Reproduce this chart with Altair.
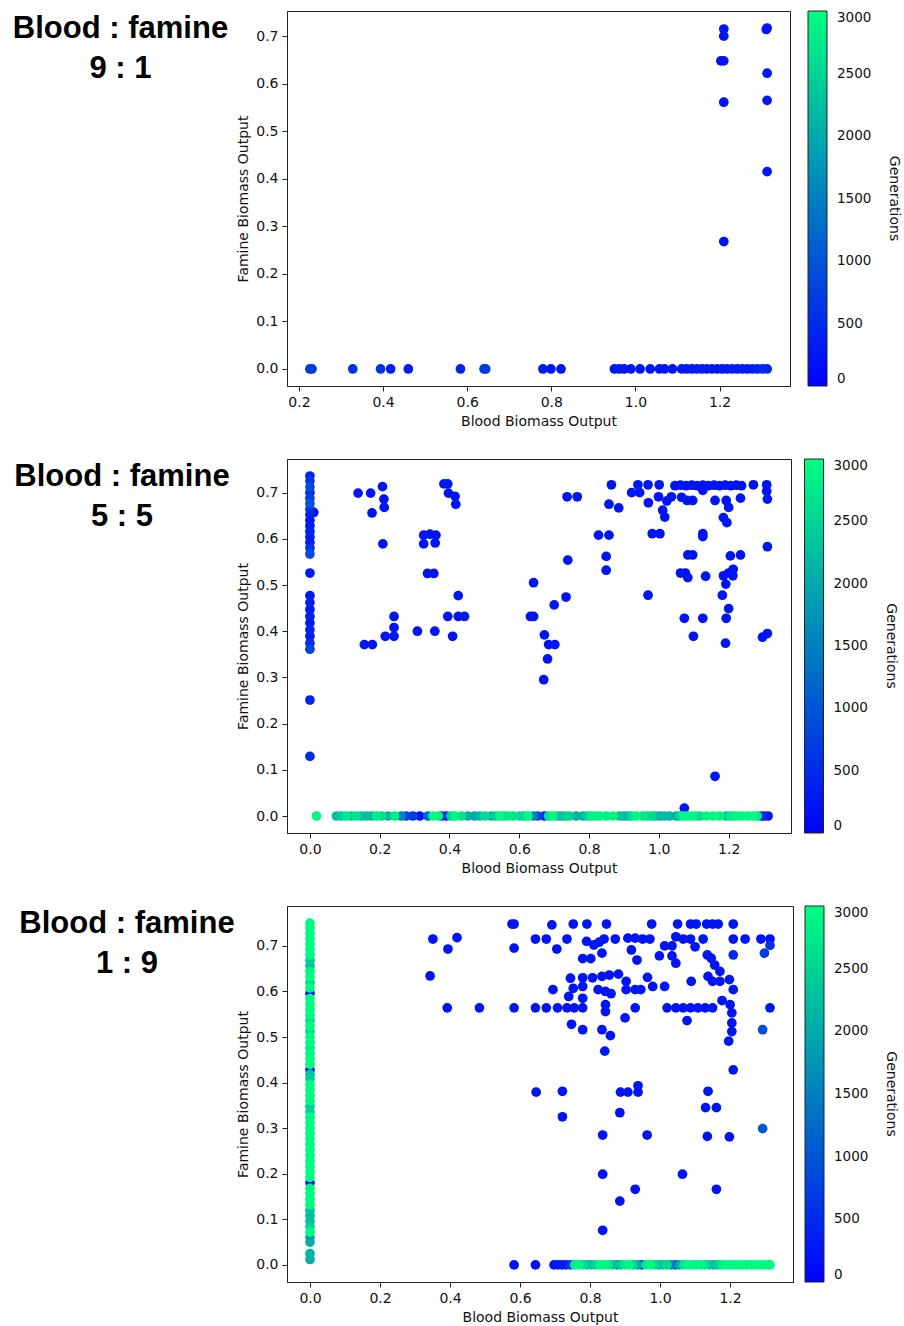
import altair as alt
import pandas as pd

# ---- Blood : famine 9 : 1 ------------------------------------------------
# each row: [blood biomass, famine biomass, generation]
p1_upper = [
    [1.210, 0.715, 250], [1.210, 0.700, 250], [1.203, 0.648, 250],
    [1.210, 0.648, 250], [1.210, 0.561, 250], [1.210, 0.268, 250],
    [1.313, 0.717, 250], [1.311, 0.714, 250], [1.313, 0.622, 280],
    [1.313, 0.565, 280], [1.313, 0.415, 280],
]
p1_floor = [
    [0.226, 0, 700], [0.231, 0, 700], [0.328, 0, 550], [0.394, 0, 600],
    [0.418, 0, 350], [0.460, 0, 350], [0.584, 0, 400], [0.640, 0, 700],
    [0.644, 0, 700], [0.780, 0, 300], [0.799, 0, 300], [0.823, 0, 250],
    [0.950, 0, 250], [0.962, 0, 250], [0.973, 0, 280], [0.989, 0, 280],
    [1.011, 0, 250], [1.035, 0, 250], [1.057, 0, 280], [1.069, 0, 280],
    [1.088, 0, 250], [1.110, 0, 280], [1.122, 0, 280], [1.134, 0, 300],
    [1.146, 0, 350], [1.158, 0, 350], [1.170, 0, 350], [1.182, 0, 300],
    [1.194, 0, 280], [1.206, 0, 280], [1.218, 0, 300], [1.230, 0, 350],
    [1.242, 0, 300], [1.254, 0, 350], [1.266, 0, 300], [1.278, 0, 350],
    [1.290, 0, 400], [1.302, 0, 500], [1.313, 0, 450],
]

# ---- Blood : famine 5 : 5 ------------------------------------------------
p2_column = [
    [0.000, 0.736, 400], [0.000, 0.725, 650], [0.000, 0.712, 900],
    [0.000, 0.700, 400], [0.000, 0.688, 750], [0.000, 0.676, 1000],
    [0.000, 0.664, 500], [0.000, 0.652, 400], [0.000, 0.640, 300],
    [0.000, 0.628, 300], [0.000, 0.616, 400], [0.000, 0.604, 300],
    [0.000, 0.592, 400], [0.000, 0.580, 650], [0.000, 0.567, 900],
    [0.011, 0.657, 250], [0.000, 0.526, 300], [0.000, 0.477, 300],
    [0.000, 0.462, 400], [0.000, 0.447, 300], [0.000, 0.432, 400],
    [0.000, 0.418, 300], [0.000, 0.403, 400], [0.000, 0.389, 300],
    [0.000, 0.374, 550], [0.000, 0.361, 800], [0.000, 0.251, 400],
    [0.000, 0.129, 500],
]
p2_scatter = [
    [0.138, 0.699, 250], [0.174, 0.699, 250], [0.178, 0.656, 250],
    [0.208, 0.713, 250], [0.212, 0.686, 250], [0.213, 0.668, 250],
    [0.209, 0.589, 250], [0.156, 0.371, 250], [0.179, 0.371, 250],
    [0.216, 0.389, 250], [0.241, 0.432, 250], [0.241, 0.408, 250],
    [0.241, 0.389, 250], [0.308, 0.400, 250], [0.326, 0.608, 250],
    [0.344, 0.610, 250], [0.361, 0.608, 250], [0.326, 0.589, 250],
    [0.359, 0.591, 250], [0.337, 0.525, 250], [0.355, 0.525, 250],
    [0.358, 0.400, 250], [0.384, 0.719, 250], [0.395, 0.719, 250],
    [0.397, 0.699, 250], [0.416, 0.692, 250], [0.418, 0.675, 250],
    [0.425, 0.477, 250], [0.395, 0.432, 250], [0.425, 0.432, 250],
    [0.443, 0.432, 250], [0.409, 0.389, 250],
    [0.641, 0.505, 250], [0.632, 0.432, 250], [0.641, 0.432, 250],
    [0.672, 0.392, 250], [0.684, 0.371, 250], [0.702, 0.371, 250],
    [0.681, 0.340, 250], [0.670, 0.295, 250], [0.700, 0.457, 250],
    [0.734, 0.474, 250], [0.739, 0.554, 250], [0.737, 0.691, 250],
    [0.766, 0.691, 250],
    [0.827, 0.608, 250], [0.857, 0.608, 250], [0.849, 0.562, 250],
    [0.849, 0.532, 250], [0.864, 0.717, 250], [0.857, 0.675, 250],
    [0.885, 0.667, 250], [0.922, 0.700, 250], [0.940, 0.717, 250],
    [0.945, 0.700, 250], [0.969, 0.717, 250], [0.970, 0.678, 250],
    [0.969, 0.478, 250], [0.981, 0.611, 250], [1.003, 0.611, 250],
    [1.001, 0.717, 250], [0.999, 0.691, 250], [1.011, 0.662, 250],
    [1.017, 0.647, 250], [1.023, 0.682, 250], [1.036, 0.691, 250],
    [1.046, 0.715, 250], [1.062, 0.716, 250], [1.078, 0.715, 250],
    [1.094, 0.716, 250], [1.110, 0.715, 250], [1.126, 0.716, 250],
    [1.142, 0.715, 250], [1.158, 0.716, 250], [1.174, 0.715, 250],
    [1.190, 0.716, 250], [1.206, 0.715, 250], [1.222, 0.716, 250],
    [1.237, 0.715, 250], [1.065, 0.690, 250], [1.081, 0.683, 250],
    [1.097, 0.683, 250], [1.126, 0.705, 250], [1.161, 0.683, 250],
    [1.193, 0.683, 250], [1.200, 0.668, 250], [1.185, 0.646, 250],
    [1.195, 0.635, 250], [1.234, 0.688, 250], [1.271, 0.717, 250],
    [1.309, 0.717, 250], [1.309, 0.703, 250], [1.311, 0.686, 250],
    [1.311, 0.583, 250], [1.297, 0.387, 250], [1.311, 0.395, 250],
    [1.083, 0.565, 250], [1.097, 0.565, 250], [1.062, 0.526, 250],
    [1.076, 0.526, 250], [1.083, 0.516, 250], [1.073, 0.428, 250],
    [1.099, 0.389, 250], [1.126, 0.611, 250], [1.126, 0.605, 250],
    [1.134, 0.519, 250], [1.126, 0.428, 250], [1.161, 0.086, 250],
    [1.073, 0.017, 250], [1.182, 0.478, 250], [1.185, 0.520, 250],
    [1.192, 0.502, 250], [1.200, 0.526, 250], [1.193, 0.428, 250],
    [1.200, 0.449, 250], [1.191, 0.374, 250], [1.205, 0.563, 250],
    [1.234, 0.565, 250], [1.213, 0.534, 250], [1.212, 0.520, 250],
]
p2_floor = [
    [0.019, 0, 2900], [0.076, 0, 2300], [0.090, 0, 2400], [0.104, 0, 2700],
    [0.119, 0, 2300], [0.133, 0, 2700], [0.147, 0, 2300], [0.162, 0, 2300],
    [0.176, 0, 2200], [0.191, 0, 2800], [0.205, 0, 2600], [0.224, 0, 2200],
    [0.243, 0, 2800], [0.262, 0, 1500], [0.276, 0, 800], [0.295, 0, 700],
    [0.315, 0, 300], [0.338, 0, 1200], [0.353, 0, 2950], [0.368, 0, 2900],
    [0.377, 0, 600], [0.391, 0, 200], [0.404, 0, 2500], [0.415, 0, 2900],
    [0.434, 0, 2700], [0.453, 0, 2100], [0.472, 0, 2000], [0.487, 0, 2200],
    [0.501, 0, 2600], [0.520, 0, 2100], [0.532, 0, 2400], [0.544, 0, 2900],
    [0.556, 0, 2500], [0.568, 0, 2800], [0.583, 0, 2700], [0.601, 0, 2600],
    [0.613, 0, 2400], [0.625, 0, 2900], [0.640, 0, 1500], [0.653, 0, 900],
    [0.672, 0, 300], [0.684, 0, 2600], [0.696, 0, 2900], [0.708, 0, 2300],
    [0.720, 0, 2000], [0.732, 0, 2400], [0.744, 0, 2500], [0.763, 0, 2100],
    [0.782, 0, 2100], [0.794, 0, 2400], [0.806, 0, 2800], [0.818, 0, 2700],
    [0.830, 0, 2900], [0.849, 0, 2800], [0.868, 0, 2900], [0.887, 0, 2300],
    [0.899, 0, 2200], [0.911, 0, 2100], [0.923, 0, 2600], [0.935, 0, 2900],
    [0.954, 0, 2700], [0.966, 0, 2500], [0.978, 0, 2600], [0.990, 0, 2300],
    [1.002, 0, 2000], [1.016, 0, 2200], [1.030, 0, 2100], [1.050, 0, 2000],
    [1.060, 0, 2500], [1.070, 0, 2900], [1.082, 0, 2800], [1.093, 0, 2900],
    [1.105, 0, 2700], [1.117, 0, 2600], [1.136, 0, 2900], [1.155, 0, 2950],
    [1.174, 0, 2900], [1.193, 0, 2300], [1.205, 0, 2700], [1.216, 0, 2900],
    [1.228, 0, 2800], [1.240, 0, 2900], [1.255, 0, 2950], [1.270, 0, 2900],
    [1.282, 0, 2700], [1.292, 0, 450], [1.302, 0, 400], [1.313, 0, 300],
]

# ---- Blood : famine 1 : 9 ------------------------------------------------
p3_column = [
    [0, 0.750, 2950], [0, 0.740, 2950], [0, 0.728, 2950], [0, 0.716, 2950],
    [0, 0.704, 2950], [0, 0.692, 2950], [0, 0.680, 2900], [0, 0.668, 2400],
    [0, 0.656, 2300], [0, 0.644, 2900], [0, 0.632, 2950], [0, 0.620, 2500],
    [0, 0.608, 2950], [0, 0.596, 300], [0, 0.584, 2950], [0, 0.572, 2950],
    [0, 0.560, 2900], [0, 0.548, 2950], [0, 0.536, 2600], [0, 0.524, 2950],
    [0, 0.512, 2500], [0, 0.500, 2950], [0, 0.488, 2950], [0, 0.476, 2700],
    [0, 0.464, 2950], [0, 0.452, 2950], [0, 0.440, 2950], [0, 0.428, 250],
    [0, 0.418, 2300], [0, 0.408, 2400], [0, 0.396, 2950], [0, 0.384, 2950],
    [0, 0.372, 2900], [0, 0.360, 2950], [0, 0.348, 2400], [0, 0.336, 2500],
    [0, 0.324, 2950], [0, 0.312, 2950], [0, 0.300, 2950], [0, 0.288, 2950],
    [0, 0.276, 2950], [0, 0.264, 2950], [0, 0.252, 2950], [0, 0.240, 2950],
    [0, 0.228, 2950], [0, 0.216, 2950], [0, 0.204, 2950], [0, 0.192, 2950],
    [0, 0.180, 350], [0, 0.168, 2900], [0, 0.156, 2950], [0, 0.144, 2950],
    [0, 0.132, 2950], [0, 0.120, 2300], [0, 0.108, 2200], [0, 0.096, 2300],
    [0, 0.084, 2500], [0, 0.072, 2950], [0, 0.060, 1900], [0, 0.050, 2000],
    [0, 0.025, 2100], [0, 0.012, 2100],
]
p3_scatter = [
    [0.343, 0.634, 250], [0.351, 0.715, 250], [0.394, 0.693, 250],
    [0.420, 0.718, 250], [0.392, 0.564, 250], [0.484, 0.564, 250],
    [0.577, 0.748, 250], [0.583, 0.748, 250], [0.583, 0.695, 250],
    [0.583, 0.564, 250], [0.644, 0.715, 250], [0.644, 0.564, 250],
    [0.675, 0.564, 250], [0.675, 0.715, 250], [0.691, 0.746, 250],
    [0.694, 0.604, 250], [0.705, 0.693, 250], [0.707, 0.564, 250],
    [0.734, 0.564, 250], [0.755, 0.564, 250], [0.779, 0.564, 250],
    [0.734, 0.715, 250], [0.752, 0.748, 250], [0.744, 0.629, 250],
    [0.752, 0.607, 250], [0.739, 0.589, 250], [0.779, 0.630, 250],
    [0.779, 0.611, 250], [0.779, 0.585, 250], [0.779, 0.672, 250],
    [0.802, 0.672, 250], [0.791, 0.748, 250], [0.747, 0.528, 250],
    [0.779, 0.516, 250], [0.790, 0.710, 250], [0.811, 0.702, 250],
    [0.826, 0.708, 250], [0.840, 0.715, 250], [0.834, 0.684, 250],
    [0.807, 0.630, 250], [0.834, 0.633, 250], [0.855, 0.636, 250],
    [0.881, 0.638, 250], [0.823, 0.604, 250], [0.844, 0.600, 250],
    [0.860, 0.595, 250], [0.844, 0.571, 250], [0.844, 0.556, 250],
    [0.834, 0.516, 250], [0.858, 0.503, 250], [0.842, 0.469, 250],
    [0.847, 0.748, 250], [0.872, 0.715, 250], [0.903, 0.622, 250],
    [0.903, 0.604, 250], [0.929, 0.604, 250], [0.945, 0.604, 250],
    [0.900, 0.542, 250], [0.929, 0.564, 250], [0.908, 0.717, 250],
    [0.929, 0.717, 250], [0.950, 0.715, 250], [0.918, 0.691, 250],
    [0.934, 0.669, 250], [0.976, 0.748, 250], [0.964, 0.631, 250],
    [0.979, 0.611, 250], [0.971, 0.715, 250], [0.998, 0.678, 250],
    [1.013, 0.611, 250], [1.013, 0.700, 250], [1.034, 0.700, 250],
    [1.050, 0.748, 250], [1.045, 0.720, 250], [1.066, 0.715, 250],
    [1.087, 0.715, 250], [1.034, 0.678, 250], [1.045, 0.662, 250],
    [1.020, 0.564, 250], [1.045, 0.564, 250], [1.066, 0.564, 250],
    [1.087, 0.564, 250], [1.108, 0.564, 250], [1.129, 0.564, 250],
    [1.150, 0.564, 250], [1.077, 0.536, 250], [1.087, 0.748, 250],
    [1.103, 0.748, 250], [1.100, 0.698, 250], [1.089, 0.622, 250],
    [1.123, 0.715, 250], [1.133, 0.748, 250], [1.150, 0.748, 250],
    [1.166, 0.748, 250], [1.137, 0.633, 250], [1.150, 0.622, 250],
    [1.171, 0.622, 250], [1.135, 0.680, 250], [1.146, 0.673, 250],
    [1.156, 0.658, 250], [1.171, 0.644, 250], [1.177, 0.580, 250],
    [1.200, 0.571, 250], [1.205, 0.553, 250], [1.205, 0.531, 250],
    [1.205, 0.512, 250], [1.209, 0.748, 250], [1.209, 0.715, 250],
    [1.198, 0.626, 250], [1.209, 0.604, 250], [1.196, 0.491, 250],
    [1.209, 0.428, 250], [1.243, 0.715, 250], [1.288, 0.715, 250],
    [1.314, 0.715, 250], [1.298, 0.684, 700], [1.314, 0.701, 600],
    [1.314, 0.564, 250], [1.293, 0.516, 900], [1.293, 0.299, 1000],
    [1.209, 0.680, 500], [0.646, 0.379, 250], [0.721, 0.381, 250],
    [0.721, 0.325, 250], [0.887, 0.379, 250], [0.908, 0.379, 250],
    [0.937, 0.393, 250], [0.937, 0.379, 250], [0.885, 0.334, 250],
    [0.836, 0.285, 250], [0.963, 0.285, 250], [1.137, 0.381, 250],
    [1.130, 0.345, 250], [1.161, 0.345, 250], [1.135, 0.282, 250],
    [1.198, 0.281, 250], [0.836, 0.199, 250], [1.064, 0.199, 250],
    [0.929, 0.166, 250], [1.161, 0.166, 250], [0.885, 0.140, 250],
    [0.836, 0.076, 250],
]
p3_floor = [
    [0.583, 0, 200], [0.644, 0, 200], [0.697, 0, 250], [0.708, 0, 250],
    [0.720, 0, 300], [0.732, 0, 350], [0.744, 0, 650], [0.756, 0, 2800],
    [0.768, 0, 2900], [0.780, 0, 2600], [0.792, 0, 2200], [0.804, 0, 2300],
    [0.816, 0, 2500], [0.828, 0, 2900], [0.840, 0, 2950], [0.852, 0, 2800],
    [0.864, 0, 2300], [0.876, 0, 1800], [0.888, 0, 2400], [0.900, 0, 2800],
    [0.912, 0, 2900], [0.924, 0, 2500], [0.936, 0, 1900], [0.948, 0, 650],
    [0.960, 0, 2700], [0.972, 0, 2950], [0.984, 0, 2600], [0.996, 0, 2200],
    [1.008, 0, 2300], [1.020, 0, 2600], [1.032, 0, 1500], [1.044, 0, 900],
    [1.056, 0, 2000], [1.068, 0, 2700], [1.080, 0, 2950], [1.092, 0, 2900],
    [1.104, 0, 2800], [1.116, 0, 2900], [1.128, 0, 2700], [1.140, 0, 2300],
    [1.152, 0, 2200], [1.164, 0, 2400], [1.176, 0, 2800], [1.188, 0, 2950],
    [1.200, 0, 2950], [1.212, 0, 2900], [1.224, 0, 2950], [1.236, 0, 2950],
    [1.248, 0, 2950], [1.260, 0, 2900], [1.272, 0, 2950], [1.284, 0, 2950],
    [1.296, 0, 2950], [1.308, 0, 2950], [1.314, 0, 2950],
]

x_ticks_a = [0.2, 0.4, 0.6, 0.8, 1.0, 1.2]
x_ticks_b = [0.0, 0.2, 0.4, 0.6, 0.8, 1.0, 1.2]
y_ticks = [0.0, 0.1, 0.2, 0.3, 0.4, 0.5, 0.6, 0.7]
gen_ticks = [0, 500, 1000, 1500, 2000, 2500, 3000]

TEXT = "DejaVu Sans"


def panel(rows, ratio, x_dom, y_dom, x_ticks, w, h, title_x, bar_x):
    df = pd.DataFrame(rows, columns=["blood", "famine", "gen"])
    points = alt.Chart(df).mark_circle(size=95, opacity=1).encode(
        x=alt.X("blood:Q", title="Blood Biomass Output",
                scale=alt.Scale(domain=x_dom, nice=False, zero=False),
                axis=alt.Axis(values=x_ticks, format=".1f")),
        y=alt.Y("famine:Q", title="Famine Biomass Output",
                scale=alt.Scale(domain=y_dom, nice=False, zero=False),
                axis=alt.Axis(values=y_ticks, format=".1f")),
        color=alt.Color(
            "gen:Q",
            scale=alt.Scale(domain=[0, 3000], range=["#0000ff", "#00ff80"],
                            interpolate="rgb"),
            legend=alt.Legend(
                title=None, orient="none", legendX=bar_x, legendY=0,
                direction="vertical", gradientLength=h, gradientThickness=19,
                gradientStrokeColor="#222", gradientStrokeWidth=1,
                values=gen_ticks, format="d", labelFont=TEXT,
                labelFontSize=13.5, labelColor="#111", labelOffset=10,
                labelBaseline="middle", padding=0,
            ),
        ),
        order=alt.Order("gen:Q"),
    )
    heading = alt.Chart(alt.Data(values=[{}])).mark_text(
        text=["Blood : famine", ratio], font="Liberation Sans", fontSize=31,
        fontWeight="bold", align="center", baseline="alphabetic",
        lineHeight=40, color="black",
    ).encode(x=alt.value(title_x), y=alt.value(26.5))
    bar_title = alt.Chart(alt.Data(values=[{}])).mark_text(
        text="Generations", font=TEXT, fontSize=14, angle=90,
        align="center", baseline="middle", color="#111",
    ).encode(x=alt.value(bar_x + 86), y=alt.value(h / 2))
    return alt.layer(points, heading, bar_title).properties(width=w, height=h)


top = panel(p1_upper + p1_floor, "9 : 1", [0.1716, 1.3674], [-0.0359, 0.7529],
            x_ticks_a, 503, 375, -166.5, 521)
mid = panel(p2_column + p2_scatter + p2_floor, "5 : 5", [-0.0657, 1.3787],
            [-0.0368, 0.7728], x_ticks_b, 504, 374, -165, 517.5)
bottom = panel(p3_column + p3_scatter + p3_floor, "1 : 9", [-0.0657, 1.3797],
               [-0.0375, 0.7875], x_ticks_b, 506, 376, -160, 518)

chart = alt.vconcat(top, mid, bottom, spacing=73, bounds="flush").resolve_scale(
    color="independent", x="independent", y="independent"
).resolve_legend(color="independent").configure(
    background="white", padding={"left": 12, "top": 10, "right": 0, "bottom": 0}
).configure_axis(
    labelFont=TEXT, labelFontSize=14, labelColor="#111", labelPadding=4,
    labelFlush=False, titleFont=TEXT, titleFontSize=14, titleFontWeight="normal",
    titleColor="#111", titlePadding=5, tickSize=5, tickColor="#222",
    domainColor="#222", grid=False,
).configure_view(stroke="#222", strokeWidth=1)

chart.save("out.html", embed_options={"renderer": "svg", "actions": False})
